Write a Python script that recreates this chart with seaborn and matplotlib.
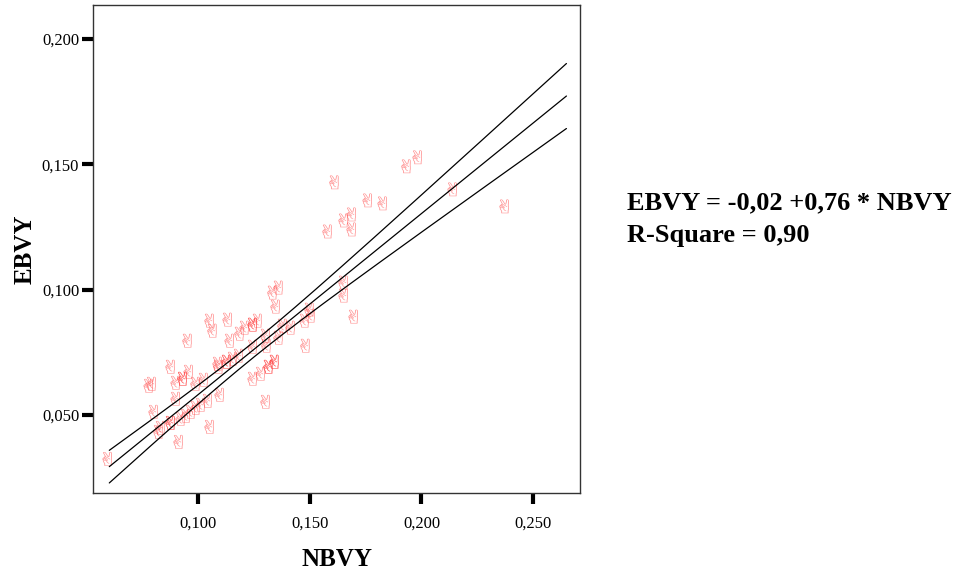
import matplotlib
matplotlib.use("Agg")
import matplotlib.pyplot as plt
import numpy as np
import pandas as pd
import seaborn as sns
from matplotlib.font_manager import FontProperties
from matplotlib.markers import MarkerStyle
from matplotlib.path import Path
from matplotlib.textpath import TextPath
from matplotlib.ticker import FixedLocator, FuncFormatter

# values (the glyph sits just above its point)
NBVY = [
    0.059, 0.0774, 0.0787, 0.0796, 0.0818, 0.0827, 0.0872, 0.0872, 0.0872, 0.0895,
    0.0895, 0.0908, 0.0917, 0.0926, 0.0926, 0.094, 0.0948, 0.0953, 0.0962, 0.0984,
    0.0984, 0.1007, 0.102, 0.1038, 0.1047, 0.1047, 0.106, 0.1083, 0.1087, 0.1092,
    0.1128, 0.1137, 0.1123, 0.1123, 0.115, 0.1177, 0.1181, 0.1204, 0.124, 0.124,
    0.1262, 0.124, 0.124, 0.1276, 0.1298, 0.1302, 0.1298, 0.1311, 0.1311, 0.1338,
    0.1338, 0.1329, 0.1356, 0.1343, 0.1356, 0.1374, 0.141, 0.1473, 0.1495, 0.15,
    0.1477, 0.1576, 0.1607, 0.1648, 0.1684, 0.1684, 0.1648, 0.1648, 0.1693, 0.1756,
    0.1823, 0.193, 0.198, 0.2137, 0.237,
]
EBVY = [
    0.028, 0.0572, 0.058, 0.0468, 0.0388, 0.0404, 0.0648, 0.0424, 0.0424, 0.0584,
    0.052, 0.0348, 0.044, 0.060, 0.060, 0.0452, 0.0752, 0.0628, 0.0468, 0.058,
    0.0484, 0.0496, 0.0596, 0.0512, 0.0408, 0.0832, 0.0792, 0.066, 0.0648, 0.0536,
    0.0836, 0.0752, 0.0668, 0.0668, 0.068, 0.0692, 0.078, 0.0804, 0.0816, 0.0816,
    0.0832, 0.0728, 0.060, 0.062, 0.0772, 0.0732, 0.0508, 0.0648, 0.0648, 0.0668,
    0.0668, 0.0944, 0.0964, 0.0888, 0.0764, 0.0812, 0.0804, 0.0832, 0.0876, 0.0852,
    0.0732, 0.1188, 0.1384, 0.1232, 0.1256, 0.1196, 0.0984, 0.0932, 0.0848, 0.1312,
    0.130, 0.1448, 0.1484, 0.1356, 0.1288,
]
FIT_RANGE = [0.060, 0.265]
X_TICKS = [0.10, 0.15, 0.20, 0.25]
Y_TICKS = [0.05, 0.10, 0.15, 0.20]
EQUATION = "EBVY = -0,02 +0,76 * NBVY"
R_SQUARE = "R-Square = 0,90"

df = pd.DataFrame({"NBVY": NBVY, "EBVY": EBVY})

# least squares fit with 95% confidence band for the mean
x = df["NBVY"].to_numpy()
y = df["EBVY"].to_numpy()
n = len(x)
slope, intercept = np.polyfit(x, y, 1)
resid = y - (intercept + slope * x)
s = np.sqrt(np.sum(resid ** 2) / (n - 2))
sxx = np.sum((x - x.mean()) ** 2)
t_val = 1.993
grid = np.linspace(FIT_RANGE[0], FIT_RANGE[1], 200)
fit = intercept + slope * grid
half = t_val * s * np.sqrt(1 / n + (grid - x.mean()) ** 2 / sxx)
fit_df = pd.DataFrame({"x": grid, "fit": fit, "lo": fit - half, "hi": fit + half})


def glyph_marker(char, lift, height_pt, stretch=1.0, shift=0.0):
    """Text glyph as a marker, drawn above its anchor point like a text symbol."""
    tp = TextPath((0, 0), char, size=1, prop=FontProperties(family="DejaVu Sans"))
    verts = tp.vertices.copy()
    lo, hi = verts.min(axis=0), verts.max(axis=0)
    h = hi[1] - lo[1]
    verts = (verts - (lo + hi) / 2) / h
    verts[:, 0] = verts[:, 0] * stretch + shift
    verts[:, 1] += lift
    rescale = np.abs(verts).max()
    size = height_pt * 2 * rescale
    return MarkerStyle(Path(verts, tp.codes)), size ** 2


sns.set_style("white")
plt.rcParams["font.family"] = ["Liberation Serif", "DejaVu Serif"]
plt.rcParams["text.color"] = "black"
plt.rcParams["axes.labelcolor"] = "black"
plt.rcParams["xtick.color"] = "black"
plt.rcParams["ytick.color"] = "black"

fig = plt.figure(figsize=(9.57, 5.75), dpi=100)
ax = fig.add_axes([0.0972, 0.1426, 0.5089, 0.8487])

marker, msize = glyph_marker("\u270c", 0.8, 10.0, stretch=1.45, shift=-0.2)
sns.scatterplot(data=df, x="NBVY", y="EBVY", ax=ax, marker=marker, s=msize,
                color="#ff3a3a", alpha=0.55, edgecolor="none", linewidth=0,
                legend=False)
for col in ["hi", "fit", "lo"]:
    sns.lineplot(data=fit_df, x="x", y=col, ax=ax, color="black", linewidth=0.9)

ax.set_xlim(0.0527, 0.2711)
ax.set_ylim(0.0188, 0.2136)
ax.xaxis.set_major_locator(FixedLocator(X_TICKS))
ax.yaxis.set_major_locator(FixedLocator(Y_TICKS))
comma = FuncFormatter(lambda v, _: f"{v:.3f}".replace(".", ","))
ax.xaxis.set_major_formatter(comma)
ax.yaxis.set_major_formatter(comma)
ax.tick_params(axis="both", direction="out", length=8, width=3, color="black",
               labelsize=12, bottom=True, left=True, pad=2)
ax.tick_params(axis="x", pad=8)
for spine in ax.spines.values():
    spine.set_color("#333333")
    spine.set_linewidth(1.0)

ax.set_xlabel("NBVY", fontsize=18, fontweight="bold", labelpad=12)
ax.set_ylabel("EBVY", fontsize=18, fontweight="bold", labelpad=4)

fig.text(0.655, 0.647, EQUATION, fontsize=19, fontweight="bold", va="center", ha="left")
fig.text(0.655, 0.590, R_SQUARE, fontsize=19, fontweight="bold", va="center", ha="left")

fig.savefig("out.png", dpi=100)
